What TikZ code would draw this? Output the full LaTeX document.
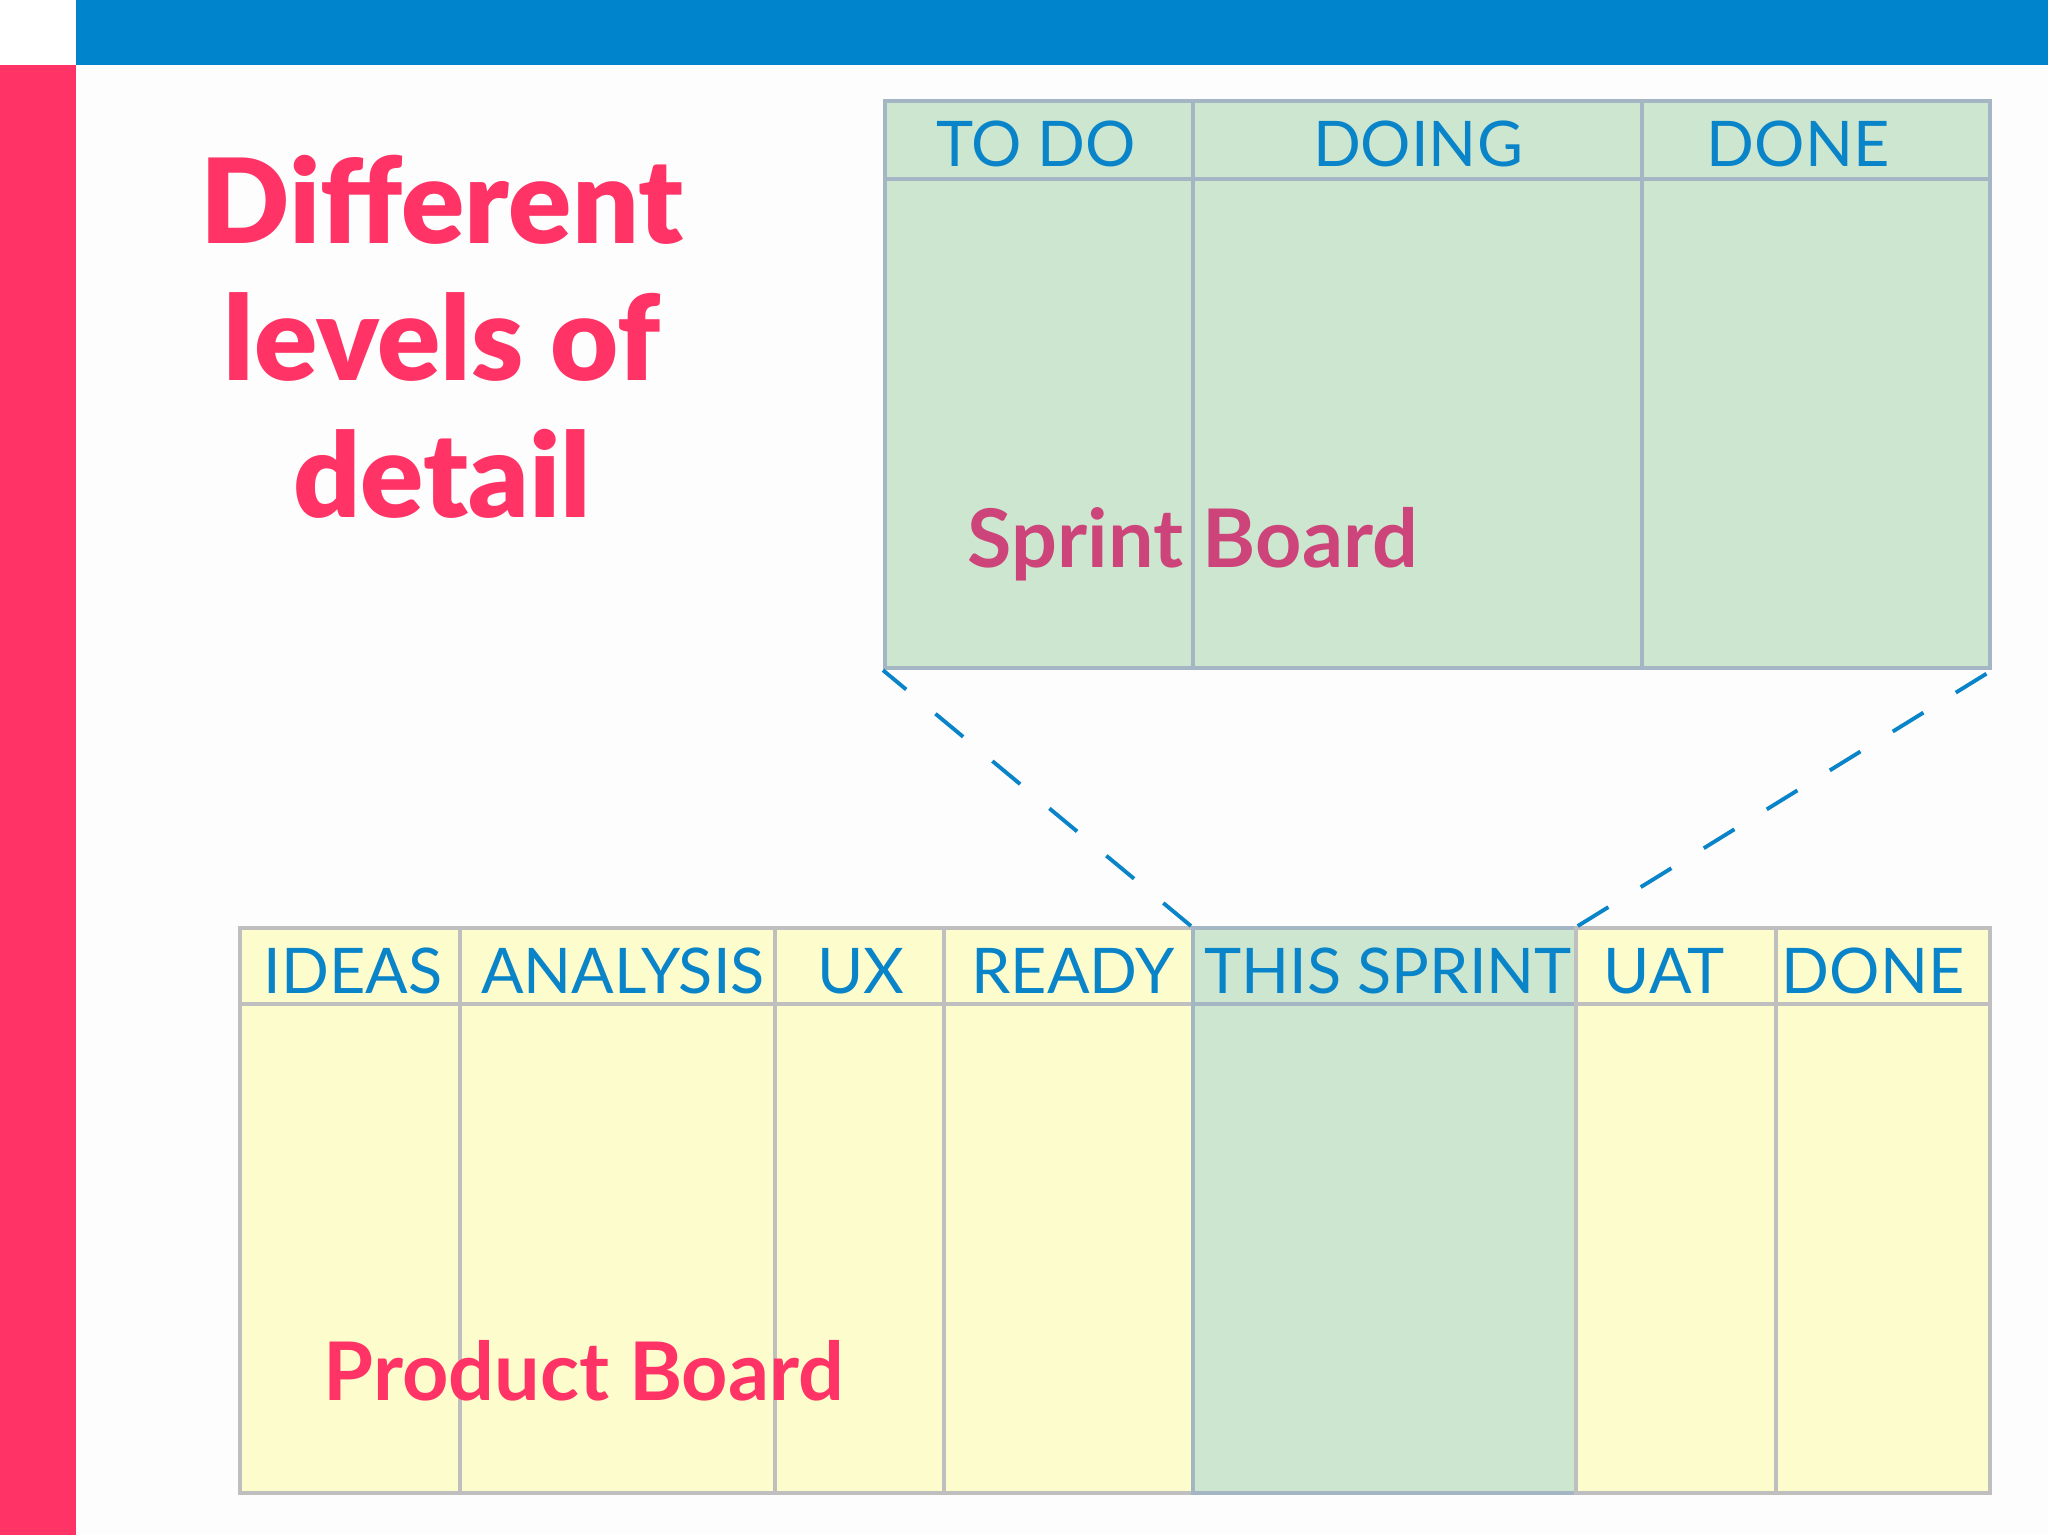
\documentclass[tikz,border=0pt]{standalone}
\usepackage{fontspec}
\setmainfont{Lato}
\IfFontExistsTF{Lato Black}{\newfontfamily\heavyfont{Lato Black}}{\newcommand\heavyfont{\bfseries}}
\definecolor{barblue}{HTML}{0085CC}
\definecolor{barpink}{HTML}{FF3366}
\definecolor{sprintpink}{HTML}{CC4479}
\definecolor{headblue}{HTML}{0A84C9}
\definecolor{sprintfill}{HTML}{CDE6CF}
\definecolor{prodfill}{HTML}{FDFCCC}
\definecolor{sprintline}{HTML}{A4B5C4}
\definecolor{prodline}{HTML}{BFBFBF}
\definecolor{pagebg}{HTML}{FDFDFD}
\begin{document}
\begin{tikzpicture}[x=0.01cm,y=-0.01cm]
    \tikzset{
    scol/.style={draw=sprintline, fill=sprintfill, line width=1.1pt, anchor=north west, inner sep=0pt, minimum height=5.67cm},
    pcol/.style={draw=prodline, fill=prodfill, line width=1pt, anchor=north west, inner sep=0pt, minimum height=5.65cm},
    tcol/.style={pcol, draw=sprintline, fill=sprintfill},
    head/.style={font=\fontsize{17.9}{20}\selectfont, text=headblue, anchor=base, inner sep=0pt},
    title/.style={font=\heavyfont\fontsize{33.4}{38}\selectfont, text=barpink, anchor=base, inner sep=0pt},
    boardname/.style={font=\bfseries\fontsize{23}{26}\selectfont, anchor=base, inner sep=0pt},
    dashline/.style={draw=headblue, line width=1.1pt, dash pattern=on 0.36cm off 0.38cm},
    }
    \useasboundingbox (0,0) rectangle (2048,1535);
    \fill[pagebg] (0,0) rectangle (2048,1535);
    \fill[white] (0,0) rectangle (76,65);
    \fill[barblue] (76,0) rectangle (2048,65);
    \fill[barpink] (0,65) rectangle (76,1535);

    % title
    \node[title] (title1) at (442,243) {Different};
    \node[title] (title2) at (442,380) {levels of};
    \node[title] (title3) at (442,517) {detail};

    % sprint board
    \foreach \xa/\w/\nm in {883/3.08/todo, 1191/4.49/doing, 1640/3.48/sdone}
        \node[scol, minimum width=\w cm] (\nm) at (\xa,99) {};
    \draw[sprintline, line width=1.3pt] ([yshift=-0.8cm]todo.north west) -- ([yshift=-0.8cm]sdone.north east);
    \foreach \xc/\lbl/\nm in {1036/TO DO/todo, 1418/DOING/doing, 1798/DONE/sdone}
        \node[head] (\nm-t) at (\xc,166) {\lbl};
    \node[boardname, text=sprintpink] (sprintname) at (1193,567) {Sprint Board};

    % product board
    \foreach \xa/\w/\nm/\st in {238/2.20/ideas/pcol, 458/3.15/analysis/pcol, 773/1.69/ux/pcol, 942/2.49/ready/pcol, 1191/3.83/thissprint/tcol, 1574/2.00/uat/pcol, 1774/2.14/pdone/pcol}
        \node[\st, minimum width=\w cm] (\nm) at (\xa,926) {};
    \draw[prodline, line width=1pt] ([yshift=-0.78cm]ideas.north west) -- ([yshift=-0.78cm]ready.north east);
    \draw[sprintline, line width=1pt] ([yshift=-0.78cm]thissprint.north west) -- ([yshift=-0.78cm]thissprint.north east);
    \draw[prodline, line width=1pt] ([yshift=-0.78cm]uat.north west) -- ([yshift=-0.78cm]pdone.north east);
    \foreach \xc/\lbl/\nm in {353/IDEAS/ideas, 623/ANALYSIS/analysis, 861/UX/ux, 1073/READY/ready, 1388/THIS SPRINT/thissprint, 1664/UAT/uat, 1873/DONE/pdone}
        \node[head] (\nm-t) at (\xc,993) {\lbl};
    \node[boardname, text=barpink] (prodname) at (584,1400) {Product Board};

    % zoom lines
    \draw[dashline] (thissprint.north west) -- (todo.south west);
    \draw[dashline] (thissprint.north east) -- (sdone.south east);
\end{tikzpicture}
\end{document}
